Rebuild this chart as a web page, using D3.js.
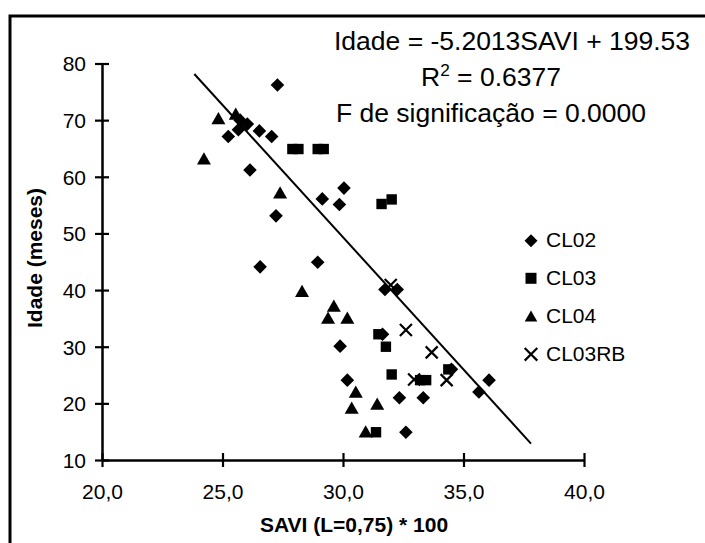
<!DOCTYPE html>
<html>
<head>
<meta charset="utf-8">
<script src="https://cdn.jsdelivr.net/npm/d3@7"></script>
<style>
  html, body { margin: 0; padding: 0; background: #fff; }
  svg { display: block; font-family: "Liberation Sans", Arial, sans-serif; }
</style>
</head>
<body>
<svg id="chart" width="705" height="543"></svg>
<script>
// ---- data ----
const seriesNames = ["CL02", "CL03", "CL04", "CL03RB"];
const cl02X = [27.28, 25.24, 25.66, 25.73, 26.03, 26.53, 27.04, 26.14, 29.14, 30.04, 29.85, 27.22, 26.56, 28.95, 29.88, 30.18, 31.64, 31.74, 32.25, 32.34, 33.33, 32.61, 34.5, 36.06, 35.64];
const cl02Y = [76.2, 67.1, 68.3, 70.0, 69.3, 68.1, 67.1, 61.2, 56.1, 58.0, 55.1, 53.1, 44.1, 44.9, 30.1, 24.1, 32.2, 40.1, 40.1, 21.0, 21.0, 14.9, 26.0, 24.1, 22.0];
const cl03X = [27.9, 28.15, 28.95, 29.2, 31.6, 32.02, 31.47, 31.78, 32.02, 33.2, 33.45, 34.37, 31.37];
const cl03Y = [64.9, 64.9, 64.9, 64.9, 55.2, 56.0, 32.2, 30.0, 25.1, 24.1, 24.1, 26.0, 14.9];
const cl04X = [24.83, 25.55, 24.23, 27.39, 28.3, 29.62, 29.38, 30.18, 30.53, 30.36, 31.42, 30.94];
const cl04Y = [70.2, 71.0, 63.1, 57.1, 39.7, 37.1, 35.0, 35.0, 21.9, 19.1, 19.8, 14.9];
const cl03rbX = [31.98, 32.61, 33.68, 32.95, 34.3];
const cl03rbY = [40.9, 32.95, 29.0, 24.2, 24.1];
const trendX = [23.83, 37.8];
const trendY = [78.15, 12.9];
const xTicks = [20, 25, 30, 35, 40];
const xTickLabels = ["20,0", "25,0", "30,0", "35,0", "40,0"];
const yTicks = [10, 20, 30, 40, 50, 60, 70, 80];
const xTitle = "SAVI (L=0,75) * 100";
const yTitle = "Idade (meses)";
const eqLine1 = "Idade = -5.2013SAVI + 199.53";
const eqLine2a = "R";
const eqLine2b = "2";
const eqLine2c = " = 0.6377";
const eqLine3 = "F de significação = 0.0000";

// ---- layout ----
const svg = d3.select("#chart");
const x = d3.scaleLinear().domain([20, 40]).range([102, 584]);
const y = d3.scaleLinear().domain([10, 80]).range([460, 63.5]);
const FONT = 21;

// outer border (extends beyond the window on right/bottom)
svg.append("rect").attr("x", 10).attr("y", 16).attr("width", 740).attr("height", 580)
  .attr("fill", "none").attr("stroke", "#000").attr("stroke-width", 3);

// symbol paths
const sym = {
  diamond: (s) => `M0,${-s}L${s},0L0,${s}L${-s},0Z`,
  square: (s) => `M${-s},${-s}H${s}V${s}H${-s}Z`,
  triangle: (s) => `M0,${-s * 1.0}L${s},${s * 0.75}L${-s},${s * 0.75}Z`,
  cross: (s) => `M${-s},${-s}L${s},${s}M${s},${-s}L${-s},${s}`
};
const series = [
  { name: seriesNames[0], xs: cl02X, ys: cl02Y, shape: "diamond", size: 6.8 },
  { name: seriesNames[1], xs: cl03X, ys: cl03Y, shape: "square", size: 5.2 },
  { name: seriesNames[2], xs: cl04X, ys: cl04Y, shape: "triangle", size: 7 },
  { name: seriesNames[3], xs: cl03rbX, ys: cl03rbY, shape: "cross", size: 6 }
];

function drawSymbol(g, shape, size) {
  const p = g.append("path").attr("d", sym[shape](size));
  if (shape === "cross") p.attr("fill", "none").attr("stroke", "#000").attr("stroke-width", 2.2);
  else p.attr("fill", "#000");
  return p;
}

// axes
const xAxis = svg.append("g").attr("transform", `translate(0,${y(10)})`)
  .call(d3.axisBottom(x).tickValues(xTicks).tickFormat((d, i) => xTickLabels[i]).tickSizeOuter(0));
const yAxis = svg.append("g").attr("transform", `translate(${x(20)},0)`)
  .call(d3.axisLeft(y).tickValues(yTicks).tickFormat(d3.format("d")).tickSizeOuter(0));

[xAxis, yAxis].forEach(a => {
  a.select(".domain").attr("stroke", "#000").attr("stroke-width", 2.5);
  a.selectAll(".tick line").attr("stroke", "#000").attr("stroke-width", 2.2);
  a.selectAll(".tick text").attr("fill", "#000").attr("font-size", FONT)
    .attr("font-family", "'Liberation Sans', Arial, sans-serif");
});
xAxis.selectAll(".tick line").attr("y1", -7).attr("y2", 7);
xAxis.selectAll(".tick text").attr("y", 39).attr("dy", 0);
yAxis.selectAll(".tick line").attr("x1", -7).attr("x2", 7);
yAxis.selectAll(".tick text").attr("x", -16).attr("dy", "0.35em");

// trend line
svg.append("line")
  .attr("x1", x(trendX[0])).attr("y1", y(trendY[0]))
  .attr("x2", x(trendX[1])).attr("y2", y(trendY[1]))
  .attr("stroke", "#000").attr("stroke-width", 2);

// points
series.forEach(s => {
  s.xs.forEach((v, i) => {
    const g = svg.append("g").attr("transform", `translate(${x(v)},${y(s.ys[i])})`);
    drawSymbol(g, s.shape, s.size);
  });
});

// axis titles
svg.append("text").attr("x", 354).attr("y", 532).attr("text-anchor", "middle")
  .attr("font-size", FONT).attr("font-weight", "bold").text(xTitle);
svg.append("text").attr("transform", "translate(42,258) rotate(-90)").attr("text-anchor", "middle")
  .attr("font-size", FONT).attr("font-weight", "bold").text(yTitle);

// equation text
const EQ = 26.5;
svg.append("text").attr("x", 512).attr("y", 50).attr("text-anchor", "middle")
  .attr("font-size", EQ).text(eqLine1);
const t2 = svg.append("text").attr("x", 491).attr("y", 86).attr("text-anchor", "middle").attr("font-size", EQ);
t2.append("tspan").text(eqLine2a);
t2.append("tspan").attr("font-size", EQ * 0.65).attr("dy", -10).text(eqLine2b);
t2.append("tspan").attr("dy", 10).text(eqLine2c);
svg.append("text").attr("x", 491).attr("y", 122).attr("text-anchor", "middle")
  .attr("font-size", EQ).text(eqLine3);

// legend
const legY = [240.7, 278.3, 316.7, 354.3];
series.forEach((s, i) => {
  const g = svg.append("g").attr("transform", `translate(531,${legY[i]})`);
  drawSymbol(g, s.shape, s.shape === "square" ? 5.5 : (s.shape === "diamond" ? 6.5 : 6.3));
  svg.append("text").attr("x", 546).attr("y", legY[i] + 6.5).attr("font-size", FONT).text(s.name);
});
</script>
</body>
</html>
